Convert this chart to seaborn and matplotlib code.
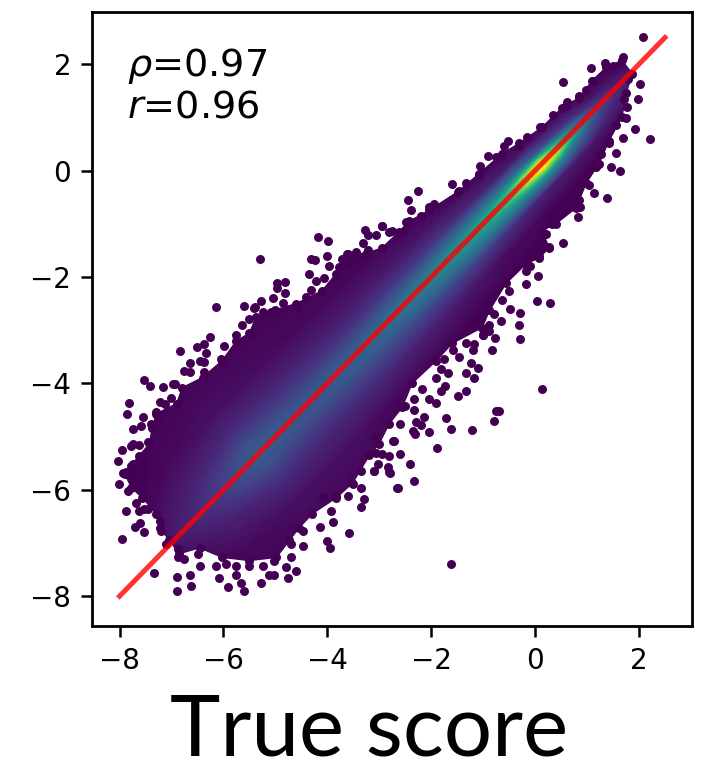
import numpy as np
import matplotlib
matplotlib.use("Agg")
import matplotlib.pyplot as plt
from matplotlib.patches import Polygon
import seaborn as sns

# Density field: rows = position along the diagonal, (x+y)/2;
# columns = offset from the diagonal, y-x; values = colour scale position (0..1)
along = [-8.5, -7, -6.3, -5.4, -4.5, -3.5, -2.5, -1.5, -1, -0.5, -0.2, 0.1, 0.4, 0.8, 1.2, 1.6, 2.3]
offset = [-3, -1.6, -1, -0.6, -0.3, -0.1, 0.1, 0.3, 0.6, 1, 1.6, 3]
density = [
    [0, 0, 0, 0, 0, 0, 0, 0, 0, 0, 0, 0],
    [0, 0, .01, .02, .04, .05, .05, .04, .03, .01, 0, 0],
    [0, .02, .06, .09, .12, .13, .13, .12, .09, .06, .02, 0],
    [0, .04, .11, .19, .26, .28, .28, .26, .19, .11, .04, 0],
    [0, .04, .10, .17, .24, .26, .26, .23, .16, .09, .03, 0],
    [0, .02, .10, .19, .27, .29, .28, .23, .14, .07, .02, 0],
    [0, .01, .08, .19, .32, .37, .36, .28, .15, .06, .01, 0],
    [0, 0, .05, .18, .38, .48, .47, .34, .14, .04, 0, 0],
    [0, 0, .03, .15, .42, .56, .54, .36, .11, .02, 0, 0],
    [0, 0, .02, .11, .44, .68, .65, .36, .08, .01, 0, 0],
    [0, 0, .01, .09, .48, .86, .80, .36, .06, 0, 0, 0],
    [0, 0, .01, .08, .50, 1.0, .88, .28, .05, 0, 0, 0],
    [0, 0, .01, .07, .42, .85, .65, .20, .03, 0, 0, 0],
    [0, 0, 0, .05, .26, .45, .35, .12, .02, 0, 0, 0],
    [0, 0, 0, .03, .12, .20, .15, .05, .01, 0, 0, 0],
    [0, 0, 0, .02, .06, .10, .08, .03, 0, 0, 0, 0],
    [0, 0, 0, 0, 0, 0, 0, 0, 0, 0, 0, 0],
]

# Outline of the solid cloud
outline_x = [-7.90, -7.75, -7.42, -7.37, -7.29, -6.90, -6.79, -6.40, -6.02, -5.75, -5.50, -5.37, -5.00, -4.60, -4.10,
             -3.83, -3.63, -3.25, -2.94, -2.62, -2.42, -2.04, -1.46, -1.08, -0.63, -0.31, 0.13, 0.52, 0.85, 1.10,
             1.37, 1.67, 1.87, 1.75, 1.67, 1.42, 1.23, 0.98, 0.79, 0.40, 0.13, 0.27, 0.08, -0.17, -0.56, -0.88,
             -1.02, -1.60, -1.90, -2.37, -2.56, -2.81, -3.00, -3.19, -3.52, -3.83, -4.29, -4.54, -4.73, -4.98, -5.50,
             -6.02, -6.46, -6.85, -7.04, -7.23, -7.29, -7.56, -7.77]
outline_y = [-5.70, -5.51, -5.13, -4.83, -4.57, -4.38, -4.08, -3.89, -3.57, -3.20, -3.06, -2.75, -2.62, -2.50, -2.26,
             -1.94, -1.56, -1.56, -1.45, -1.15, -0.95, -0.75, -0.38, -0.06, 0.32, 0.51, 0.81, 1.18, 1.37, 1.69,
             1.94, 2.07, 1.82, 1.45, 1.00, 0.56, 0.13, -0.24, -0.70, -1.00, -1.13, -1.45, -1.64, -1.75, -2.12, -2.63,
             -2.95, -3.25, -3.57, -4.00, -4.45, -4.76, -5.13, -5.35, -5.88, -6.15, -6.45, -6.71, -6.95, -7.27, -7.33,
             -7.27, -7.09, -7.20, -6.95, -6.71, -6.45, -6.15, -5.96]

# Individual points at the rim of the cloud
rim_x = [-6.14, -6.83, -6.51, -6.25, -6.65, -6.75, -7.52, -7.42, -7.17, -6.94, -7.01, -7.81, -7.85, -7.54, -7.74,
         -7.58, -7.95, -8.02, -7.78, -7.63, -7.94, -8.01, -7.84, -7.68, -7.88, -7.62, -7.46, -7.60, -7.70, -7.52,
         -7.95, -7.34, -6.90, -6.65, -6.62, -6.90, -6.45, -6.09, -5.91, -5.61, -5.27, -5.76, -5.66, -6.14, -4.60,
         -4.76, -5.12, -3.95, -4.00, -3.58, -3.35, -3.30, -3.61, -3.35, -2.81, -2.65, -3.10, -3.90, -3.93, -4.47,
         2.07, 1.70, 1.07, 1.34, 1.12, 0.53, 0.97, 2.01, 1.99, 1.76, 1.74, 1.92, 2.22, 1.69, 1.42, 1.55, 1.46, 1.63,
         1.38, 1.13, 0.83, 0.87, 0.53, 0.06, 0.03, 0.29, -0.30, -0.48, -0.31, -0.29, -2.25, -2.44, -2.38, -1.60,
         -1.06, -0.90, -0.52, -0.60, -0.15, 0.10, 0.35, 0.61, -2.94, -2.55, -1.33, 0.27, 0.21, -0.10, -0.18, -0.66,
         -6.37, -6.33, -6.37, -6.46, -5.98, -5.76, -5.64, -5.50, -5.60, -5.40, -5.24, -6.65, -6.37, -6.05, -6.97,
         -7.23, -7.30, -7.13, -7.39, -7.46, -7.74, -7.62, -7.78, -7.87, -7.68, -7.52, -7.23, -7.20, -7.10, -6.88,
         -6.88, -6.75, -6.49, -5.95, -5.76, -5.50, -5.24, -5.02, -4.70, -4.80, -5.02, -4.70, -4.47, -4.15, -4.09,
         -3.83, -3.51, -3.35, -3.06, -2.74, -2.94,
         -2.81, -2.49, -2.20, -2.04, -1.94, -1.49, -1.08, -0.76, -0.31, 0.59, 0.85, 1.49, 1.78, 1.71, 1.55, 1.26,
         1.17, 1.04, 0.85, 0.33, 0.08, -0.18, -0.50, -0.63, -0.79, -0.88, -1.01,
         -0.83, -0.77, -1.01, -0.88, -1.17, -1.20, -1.33, -1.46, -1.59, -1.75, -1.24, -1.09, -1.33, -1.18, -1.67,
         -1.81, -1.91, -1.73, -1.81, -1.33, -1.49, -1.91, -2.04, -2.17, -2.33, -2.50, -2.33, -2.60, -1.72, -1.61,
         -1.22, -0.76, -0.79, -2.05, -2.13, -2.20, -2.29, -2.36, -2.31, -1.88, -2.71, -2.61, -2.81, -3.06, -2.41,
         -2.84, -2.79, -3.03, -3.10, -2.33, -2.64,
         -5.29, -4.17, -3.99, -4.01, -3.97, -4.31, -4.23, -4.36, -4.21, -4.06, -4.97, -4.81, -4.81, -4.96, -4.31,
         -4.41, -5.05, -5.28, -5.42, -4.86, -4.57, -5.08, -3.27, -2.95, -2.76, -3.06, -3.32, -3.22, -3.45, -3.22,
         -3.61, -3.71, -3.77,
         0.13, -0.69, -1.62]
rim_y = [-2.57, -3.40, -3.32, -3.12, -3.62, -3.77, -3.94, -4.04, -4.06, -4.02, -4.27, -4.37, -4.57, -4.64, -4.86,
         -4.81, -5.26, -5.46, -5.17, -5.15, -5.69, -5.89, -6.03, -6.25, -6.40, -6.40, -6.36, -6.63, -6.70, -6.80,
         -6.93, -7.56, -7.63, -7.61, -7.81, -7.91, -7.43, -7.66, -7.83, -7.91, -7.76, -7.60, -7.76, -7.43, -7.52,
         -7.66, -7.61, -7.10, -6.97, -6.81, -6.33, -6.17, -6.11, -5.97, -5.67, -5.97, -5.64, -6.60, -6.39, -7.05,
         2.51, 2.13, 1.92, 2.02, 1.69, 1.67, 1.52, 1.62, 1.35, 1.20, 0.99, 0.78, 0.59, 0.62, 0.51, 0.33, 0.07, 0.00,
         -0.52, -0.43, -0.88, -0.69, -1.37, -1.99, -2.46, -2.49, -2.68, -2.61, -2.91, -3.16, -0.39, -0.55, -0.75,
         -0.25, 0.09, 0.28, 0.56, 0.47, 0.63, 0.81, 1.05, 1.28, -1.05, -1.16, -0.24, -1.44, -1.20, -1.80, -2.13, -2.82,
         -3.26, -3.42, -3.60, -3.57, -3.29, -3.10, -2.90, -2.79, -2.54, -2.57, -2.66, -3.79, -3.79, -3.54, -4.01,
         -4.35, -4.54, -4.39, -4.76, -5.11, -5.14, -5.36, -5.55, -5.67, -5.76, -6.36, -6.58, -6.77, -7.02, -7.11,
         -7.27, -7.30, -7.21, -7.39, -7.43, -7.43, -7.43, -7.33, -7.27, -7.46, -7.61, -7.02, -6.77, -6.70, -6.14,
         -6.11, -5.89, -5.64, -5.01, -5.08, -5.33,
         -1.16, -0.97, -0.85, -0.69, -0.63, -0.41, -0.09, 0.25, 0.47, 1.22, 1.41, 1.97, 1.72, 1.35, 0.85, 0.31,
         0.06, -0.28, -0.56, -1.00, -1.60, -1.88, -2.26, -2.44, -2.69, -2.91, -3.10,
         -3.37, -3.15, -3.10, -3.01, -3.26, -3.38, -3.24, -3.51, -3.38, -3.54, -3.62, -3.71, -3.80, -3.90, -3.80,
         -3.73, -3.89, -4.04, -4.14, -4.15, -4.24, -4.37, -4.29, -4.10, -4.30, -4.42, -4.50, -4.77, -4.65, -4.85,
         -4.88, -4.51, -4.71, -4.92, -4.64, -4.79, -4.73, -4.90, -4.96, -5.22, -5.08, -5.33, -5.36, -5.31, -5.51,
         -5.58, -5.68, -5.51, -5.64, -5.83, -5.97,
         -1.67, -1.25, -1.33, -1.60, -1.80, -1.67, -1.68, -1.94, -2.07, -2.02, -2.11, -2.10, -2.30, -2.21, -2.24,
         -2.38, -2.40, -2.46, -2.58, -2.48, -2.58, -2.66, -1.11, -1.05, -1.13, -1.22, -1.36, -1.22, -1.53, -1.49,
         -1.57, -1.66, -1.82,
         -4.10, -4.51, -7.39]

line_x = [-8, 2.5]
line_y = [-8, 2.5]
x_ticks = [-8, -6, -4, -2, 0, 2]
y_ticks = [-8, -6, -4, -2, 0, 2]
label_rho = r"$\rho$=0.97"
label_r = r"$r$=0.96"
x_title = "True score"

W, H = 707, 763
fig = plt.figure(figsize=(W / 100, H / 100), dpi=100)
ax = fig.add_axes([92 / W, (H - 626) / H, 600 / W, 614 / H])
ax.set_xlim(-8.53, 3.02)
ax.set_ylim(-8.56, 2.98)

dark = plt.get_cmap("viridis")(0.0)
hull = Polygon(np.column_stack([outline_x, outline_y]), closed=True, transform=ax.transData,
               facecolor=dark, edgecolor=dark, lw=1, zorder=1)
ax.add_patch(hull)

U, V = np.meshgrid(along, offset, indexing="ij")
cs = ax.contourf(U - V / 2, U + V / 2, np.array(density), levels=np.linspace(0, 1, 201),
                 cmap="viridis", vmin=0, vmax=1, extend="both", antialiased=False, zorder=2)
cs.set_clip_path(hull)

sns.scatterplot(x=list(outline_x) + rim_x, y=list(outline_y) + rim_y, color=dark, s=42, linewidth=0,
                legend=False, ax=ax, zorder=3)
sns.lineplot(x=line_x, y=line_y, color="red", alpha=0.8, linewidth=3.6, ax=ax, zorder=4, legend=False)

ax.set_xlim(-8.53, 3.02)
ax.set_ylim(-8.56, 2.98)
ax.set_xticks(x_ticks)
ax.set_yticks(y_ticks)
ax.set_xticklabels([str(t).replace("-", "\u2212") for t in x_ticks])
ax.set_yticklabels([str(t).replace("-", "\u2212") for t in y_ticks])
ax.tick_params(length=8, width=1.8, labelsize=20, pad=7, color="black")
for s in ax.spines.values():
    s.set_linewidth(2)

fig.text(127 / W, 1 - 76 / H, label_rho, fontsize=27.5, va="baseline", ha="left")
fig.text(127 / W, 1 - 118 / H, label_r, fontsize=27.5, va="baseline", ha="left")
fig.text(369 / W, 1 - 755 / H, x_title, fontsize=61.5, family="Lato", va="baseline", ha="center")

fig.savefig("out.png", dpi=100)
